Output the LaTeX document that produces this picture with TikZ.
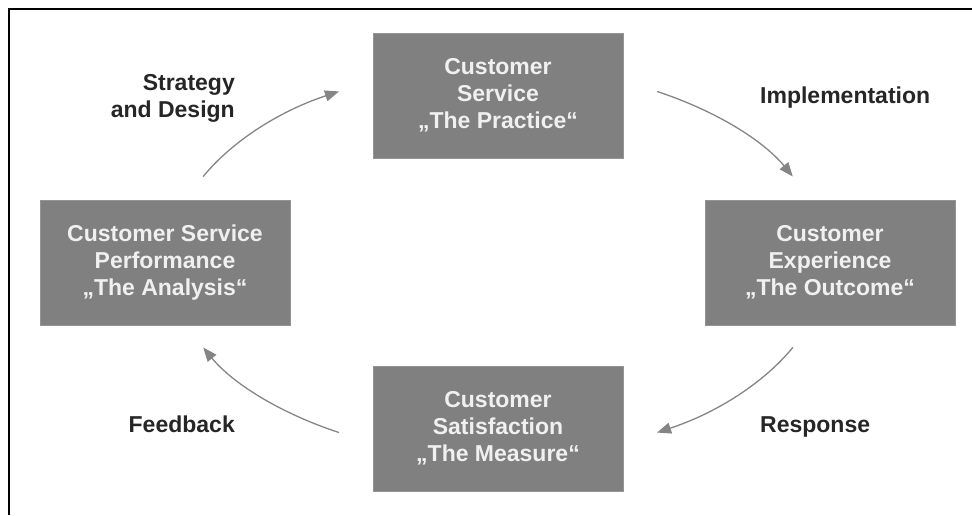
\documentclass[tikz,border=0pt]{standalone}
\usepackage{fontspec}
\setmainfont{Liberation Sans}
\usetikzlibrary{arrows.meta,calc}

\begin{document}
\begin{tikzpicture}[x=1pt,y=1pt,
    stage/.style={fill=black!50, draw=black!42, line width=.8pt,
        minimum width=250pt, minimum height=125pt, inner sep=0pt,
        align=center, text=black!6, font=\bfseries\fontsize{23}{27}\selectfont},
    phase/.style={text=black!85, inner sep=0pt, font=\bfseries\fontsize{23}{27}\selectfont},
    flow/.style={-{Triangle[length=14pt,width=11pt]}, draw=black!48, line width=1.3pt}]

    % Size of the picture and of the cycle
    \def\W{972}
    \def\H{515}
    \def\rx{328}
    \def\ry{195}
    \useasboundingbox (0,0) rectangle (\W,\H);

    % Frame (only top and left edges show)
    \draw[line width=2.5pt] (9,0) -- (9,506) -- (\W,506);

    % Centre of the cycle
    \coordinate (hub) at (498,253);

    % Stages
    \node[stage] (practice) at (498,419.5) {Customer\\Service\\„The Practice“};
    \node[stage] (outcome)  at (830,252.5) {Customer\\Experience\\„The Outcome“};
    \node[stage] (measure)  at (498,86.5)  {Customer\\Satisfaction\\„The Measure“};
    \node[stage] (analysis) at (165,252.5) {Customer Service\\Performance\\„The Analysis“};

    % Arrows round the cycle
    \foreach \a/\b in {154/119, 61/26, -26/-61, 241/206}
        \draw[flow] ($(hub)+(\a:{\rx} and {\ry})$) arc[start angle=\a, end angle=\b, x radius=\rx, y radius=\ry];

    % Labels of the arrows
    \node[phase, anchor=east, align=right] (design) at (235,417) {Strategy\\and Design};
    \node[phase, anchor=base west] (implement) at (760,411) {Implementation};
    \node[phase, anchor=base west] (response) at (760,83) {Response};
    \node[phase, anchor=base east] (feedback) at (235,83) {Feedback};

\end{tikzpicture}
\end{document}
